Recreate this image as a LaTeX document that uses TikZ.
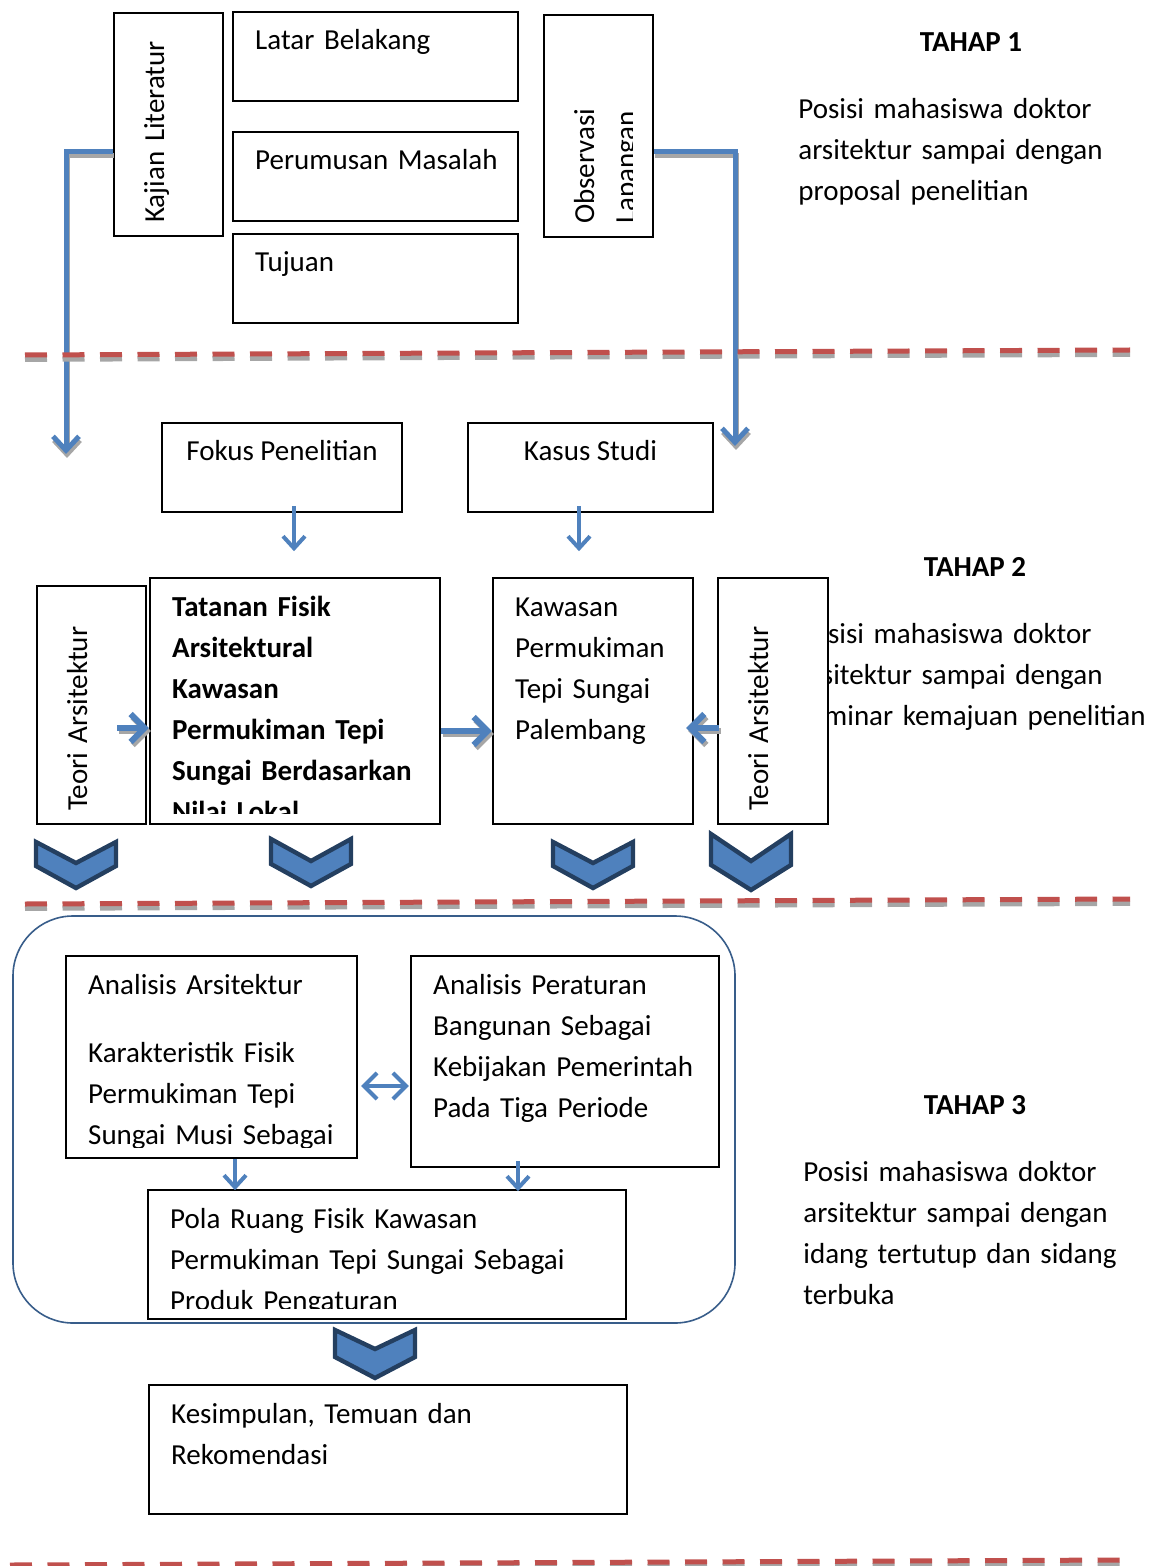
\documentclass[tikz,border=0pt]{standalone}
\usepackage{fontspec}
\setmainfont{Carlito}
\usepackage{tikz}
\usetikzlibrary{arrows.meta, fit}
\usepackage{xcolor}
\definecolor{arrowBlue}{HTML}{4F81BD}
\definecolor{chevLine}{HTML}{243F60}
\definecolor{sepRed}{HTML}{C0504D}
\definecolor{frameNavy}{HTML}{385D8A}
\definecolor{shadowGray}{HTML}{A6A6A6}
\tikzset{
    % node style
    every node/.style = {inner sep=0pt, font=\fontsize{14.5pt}{20.5pt}\selectfont},
    % arrow style
    >={Straight Barb[length=6pt, width=11pt]},
    % abstract base box style
    base/.style = {draw, rectangle, line width=1.2pt, fill=white},
    % text in the top left corner of a box, cut at the box border
    inText/.style = {path picture={
        \clip ([shift={(11,11)}]path picture bounding box.north west) rectangle ([shift={(-11,-11)}]path picture bounding box.south east);
        \node[anchor=base west, text width=280pt, align=left] at ([shift={(21,38)}]path picture bounding box.north west) {#1};
    }},
    % centred text at the top of a box
    inTextC/.style = {path picture={
        \node[anchor=base] at ([shift={(0,38)}]path picture bounding box.north) {#1};
    }},
    % rotated text reading upwards
    vText/.style = {path picture={
        \clip ([shift={(10,10)}]path picture bounding box.north west) rectangle ([shift={(-21,-10)}]path picture bounding box.south east);
        \node[rotate=90, anchor=base west, text width=200pt, align=left] at ([shift={(50,-12)}]path picture bounding box.south west) {#1};
    }},
    % stage heading and description
    stageHead/.style = {anchor=base, font=\fontsize{14.5pt}{20.5pt}\selectfont\bfseries},
    stageText/.style = {anchor=base west, text width=185pt, align=left},
    % frame of the third stage
    stageFrame/.style = {draw=frameNavy, line width=0.8pt, rounded corners=30pt},
    % connector styles
    bigArrow/.style = {draw=arrowBlue, line width=2.5pt, >={Straight Barb[length=7pt, width=13pt]}, ->,
        preaction={draw=shadowGray, line width=2.5pt, >={Straight Barb[length=7pt, width=13pt]}, ->,
            transform canvas={shift={(0.5pt,-2pt)}}}},
    blockArrow/.style = {draw=arrowBlue, line width=3pt, >={Straight Barb[length=7pt, width=14pt]}, ->,
        preaction={draw=shadowGray, line width=3pt, >={Straight Barb[length=7pt, width=14pt]}, ->,
            transform canvas={shift={(1pt,-1.5pt)}}}},
    thinArrow/.style = {draw=arrowBlue, line width=2pt, ->},
    chevron/.style = {fill=arrowBlue, draw=chevLine, line width=2.2pt},
    separator/.style = {draw=sepRed, line width=2.5pt, dash pattern=on 11pt off 7.75pt,
        preaction={draw=shadowGray, line width=2.5pt, dash pattern=on 11pt off 7.75pt,
            transform canvas={yshift=-2.2pt}}}
}
\begin{document}
\begin{tikzpicture}[x=0.5pt, y=-0.5pt]
    \useasboundingbox (0,0) rectangle (1158,1566);
    % TAHAP 1
    \node[base, fit={(114,13) (223,236)}, vText={Kajian Literatur}] (kajian) {};
    \node[base, fit={(233,12) (518,101)}, inText={Latar Belakang}] (latar) {};
    \node[base, fit={(233,132) (518,221)}, inText={Perumusan Masalah}] (rumusan) {};
    \node[base, fit={(233,234) (518,323)}, inText={Tujuan}] (tujuan) {};
    \node[base, fit={(544,15) (653,237)}, vText={Observasi\\Lapangan}] (observasi) {};
    \node[stageHead] (tahap1) at (971,52) {TAHAP 1};
    \node[stageText] (ket1) at (798,119) {Posisi mahasiswa doktor\\arsitektur sampai dengan\\proposal penelitian};
    % TAHAP 2
    \node[base, fit={(162,423) (402,512)}, inTextC={Fokus Penelitian}] (fokus) {};
    \node[base, fit={(468,423) (713,512)}, inTextC={Kasus Studi}] (kasus) {};
    \node[base, fit={(37,586) (146,824)}, vText={Teori Arsitektur}] (teoriKiri) {};
    \node[base, fit={(150,578) (440,824)}, inText={\bfseries Tatanan Fisik\\Arsitektural\\Kawasan\\Permukiman Tepi\\Sungai Berdasarkan\\Nilai Lokal}] (tatanan) {};
    \node[base, fit={(493,578) (693,824)}, inText={Kawasan\\Permukiman\\Tepi Sungai\\Palembang}] (kawasan) {};
    \node[stageHead] (tahap2) at (975,576) {TAHAP 2};
    \node[stageText] (ket2) at (798,643) {Posisi mahasiswa doktor\\arsitektur sampai dengan\\seminar kemajuan penelitian};
    \node[base, fit={(718,578) (828,824)}, vText={Teori Arsitektur}] (teoriKanan) {};
    % TAHAP 3
    \node[stageFrame, fit={(13,916) (735,1323)}] (frame3) {};
    \node[base, fit={(66,956) (357,1158)}, inText={Analisis Arsitektur\\[13.5pt]Karakteristik Fisik\\Permukiman Tepi\\Sungai Musi Sebagai}] (anaArs) {};
    \node[base, fit={(411,956) (719,1167)}, inText={Analisis Peraturan\\Bangunan Sebagai\\Kebijakan Pemerintah\\Pada Tiga Periode}] (anaAtur) {};
    \node[base, fit={(148,1190) (626,1319)}, inText={Pola Ruang Fisik Kawasan\\Permukiman Tepi Sungai Sebagai\\Produk Pengaturan}] (pola) {};
    \node[base, fit={(149,1385) (627,1514)}, inText={Kesimpulan, Temuan dan\\Rekomendasi}] (simpulan) {};
    \node[stageHead] (tahap3) at (975,1114) {TAHAP 3};
    \node[stageText] (ket3) at (803,1181) {Posisi mahasiswa doktor\\arsitektur sampai dengan\\idang tertutup dan sidang\\terbuka};
    % connectors from stage 1 down to stage 2
    \coordinate (kajianEnd) at (66,454);
    \coordinate (observasiEnd) at (735,446);
    \draw[bigArrow] ([shift={(0,27.5)}]kajian.west) -| (kajianEnd);
    \draw[bigArrow] ([shift={(0,26)}]observasi.east) -| (observasiEnd);
    % small arrows
    \draw[thinArrow] ([shift={(12,-7)}]fokus.south) -- ++(0,45);
    \draw[thinArrow] ([shift={(-11.5,-7)}]kasus.south) -- ++(0,45);
    \draw[thinArrow] ([shift={(23.5,0)}]anaArs.south) -- ++(0,31);
    \draw[thinArrow] ([shift={(-47,-7)}]anaAtur.south) -- ++(0,30);
    \draw[thinArrow, >={Straight Barb[length=6.5pt, width=13pt]}, <->] ([shift={(3,29)}]anaArs.east) -- ([shift={(-1,24.5)}]anaAtur.west);
    % thick arrows in stage 2
    \draw[blockArrow] ([shift={(-30,23)}]teoriKiri.east) -- ([shift={(0,27)}]tatanan.west);
    \draw[blockArrow] ([shift={(0,30)}]tatanan.east) -- ([shift={(0,30)}]kawasan.west);
    \draw[blockArrow] ([shift={(2,27)}]teoriKanan.west) -- ([shift={(-8,27)}]kawasan.east);
    % chevrons
    \foreach \cx/\cy/\dn/\ds/\dt in {76/842/21/24/46, 311/839/22/25/47, 593/842/21/24/46, 751/834/27/31/56, 375/1330/19/27/48}
        \draw[chevron] (\cx-40,\cy) -- (\cx,\cy+\dn) -- (\cx+40,\cy) -- (\cx+40,\cy+\ds) -- (\cx,\cy+\dt) -- (\cx-40,\cy+\ds) -- cycle;
    % stage separators
    \draw[separator] (25,355) -- (1130,350);
    \draw[separator] (25,904) -- (1130,899);
    \draw[separator] (10,1565) -- (1120,1560);
\end{tikzpicture}
\end{document}
